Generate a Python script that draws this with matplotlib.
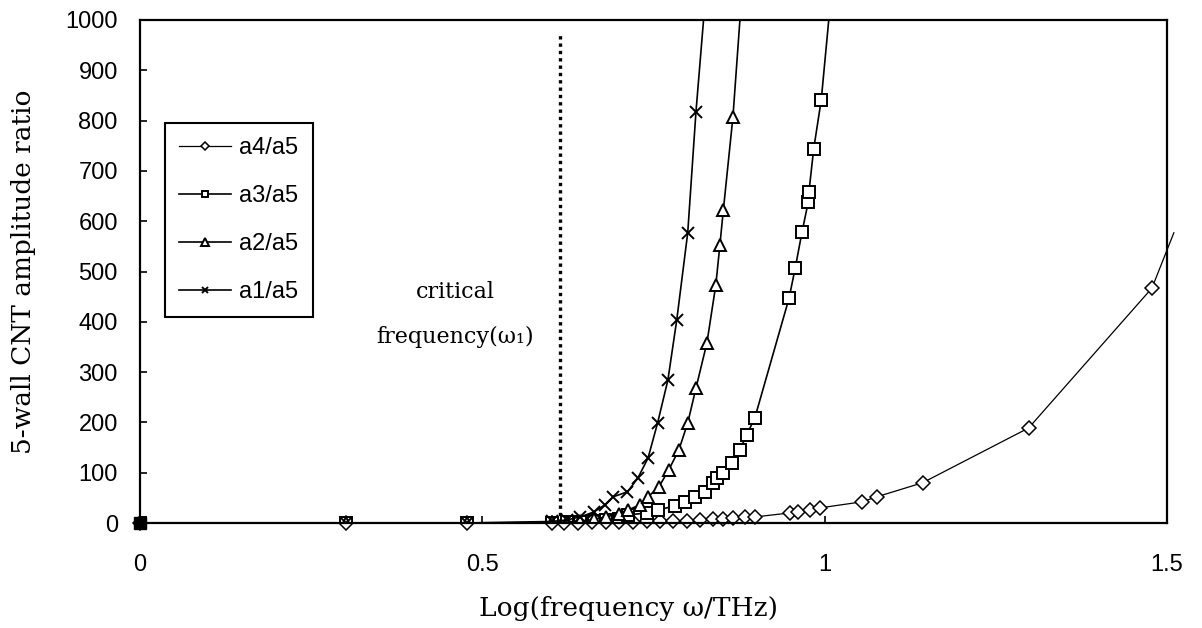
import matplotlib
matplotlib.use('Agg')
import matplotlib.pyplot as plt

# log10(frequency / THz) and amplitude ratio
x_a4 = [0, 0.301, 0.477, 0.602, 0.62, 0.64, 0.66, 0.68, 0.70, 0.72, 0.74, 0.76, 0.779, 0.799,
        0.818, 0.837, 0.852, 0.866, 0.884, 0.898, 0.949, 0.961, 0.978, 0.993, 1.054, 1.076,
        1.143, 1.298, 1.478, 1.51]
y_a4 = [0, 0, 0, 0, 0.5, 0.7, 1, 1.5, 2, 2.5, 3, 3.5, 3, 4,
        5, 8, 8, 10, 12, 12, 20, 22, 26, 30, 42, 52,
        80, 189, 467, 577]

x_a3 = [0, 0.301, 0.477, 0.602, 0.623, 0.643, 0.663, 0.680, 0.699, 0.713, 0.740, 0.757, 0.781,
        0.796, 0.811, 0.825, 0.837, 0.843, 0.852, 0.865, 0.876, 0.886, 0.898, 0.948, 0.957,
        0.967, 0.976, 0.977, 0.984, 0.995, 1.007]
y_a3 = [0, 0, 0, 0.5, 1, 2, 3, 5, 7, 16, 20, 26, 34,
        42, 52, 62, 80, 89, 99, 119, 145, 175, 209, 447, 507,
        579, 638, 658, 744, 841, 1015]

x_a2 = [0, 0.301, 0.477, 0.602, 0.623, 0.643, 0.663, 0.680, 0.699, 0.713, 0.730, 0.742, 0.758,
        0.772, 0.787, 0.800, 0.812, 0.828, 0.841, 0.847, 0.852, 0.866, 0.877]
y_a2 = [0, 0, 0, 1, 2, 4, 7, 12, 18, 26, 36, 52, 72,
        105, 145, 199, 268, 358, 473, 553, 622, 807, 1015]

x_a1 = [0, 0.301, 0.477, 0.602, 0.623, 0.643, 0.663, 0.679, 0.691, 0.712, 0.727, 0.742, 0.756,
        0.771, 0.784, 0.800, 0.812, 0.824]
y_a1 = [0, 0, 0, 3, 6, 12, 22, 36, 52, 62, 89, 129, 199,
        284, 404, 577, 817, 1015]

crit_x = 0.613
x_ticks = [0, 0.5, 1, 1.5]
x_tick_labels = ['0', '0.5', '1', '1.5']
y_ticks = list(range(0, 1001, 100))

serif = 'DejaVu Serif'
sans = 'Liberation Sans'

fig = plt.figure(figsize=(12.02, 6.28), dpi=100)
ax = fig.add_axes([140 / 1202, 1 - 523 / 628, 1027 / 1202, 503 / 628])

style = dict(color='black', markerfacecolor='white', markeredgecolor='black', markevery=slice(0, -1))
ax.plot(x_a4, y_a4, marker='D', ms=7, lw=0.9, mew=1.1, label='a4/a5', clip_on=False, **style)
ax.plot(x_a3, y_a3, marker='s', ms=8, lw=1.2, mew=1.4, label='a3/a5', **style)
ax.plot(x_a2, y_a2, marker='^', ms=9, lw=1.2, mew=1.4, label='a2/a5', **style)
ax.plot(x_a1, y_a1, marker='x', ms=8, lw=1.2, mew=1.4, label='a1/a5', **style)
# all four markers pile up at the origin and read as one solid square
ax.plot(x_a3[:1], y_a3[:1], marker='s', ms=8, color='black', clip_on=False, zorder=5)

ax.axvline(crit_x, ymin=0, ymax=0.976, color='black', lw=2.4, linestyle=(0, (1, 1.2)))
ax.text(0.46, 459, 'critical', family=serif, fontsize=16, ha='center', va='center')
ax.text(0.46, 370, 'frequency(\u03c9\u2081)', family=serif, fontsize=16, ha='center', va='center')

ax.set_xlim(0, 1.5)
ax.set_ylim(0, 1000)
ax.set_xticks(x_ticks)
ax.set_xticklabels(x_tick_labels)
ax.set_yticks(y_ticks)
ax.tick_params(direction='in', length=5, width=1.2, labelsize=17, colors='black')
ax.tick_params(axis='x', pad=22)
ax.tick_params(axis='y', pad=16)
for lab in ax.get_xticklabels() + ax.get_yticklabels():
    lab.set_family(sans)
for sp in ax.spines.values():
    sp.set_linewidth(1.6)
    sp.set_color('black')

ax.set_xlabel('Log(frequency \u03c9/THz)', family=serif, fontsize=19)
ax.xaxis.set_label_coords(0.476, -0.146)
ax.set_ylabel('5-wall CNT amplitude ratio', family=serif, fontsize=19)
ax.yaxis.set_label_coords(-0.101, 0.5)

leg = ax.legend(loc='upper left', bbox_to_anchor=(0.0243, 0.795), prop={'family': sans, 'size': 17},
                frameon=True, fancybox=False, edgecolor='black', framealpha=1, borderpad=0.6,
                labelspacing=1.1, handlelength=2.2, handletextpad=0.35, markerscale=0.6,
                borderaxespad=0)
leg.get_frame().set_linewidth(1.5)

fig.savefig('out.png', dpi=100)
